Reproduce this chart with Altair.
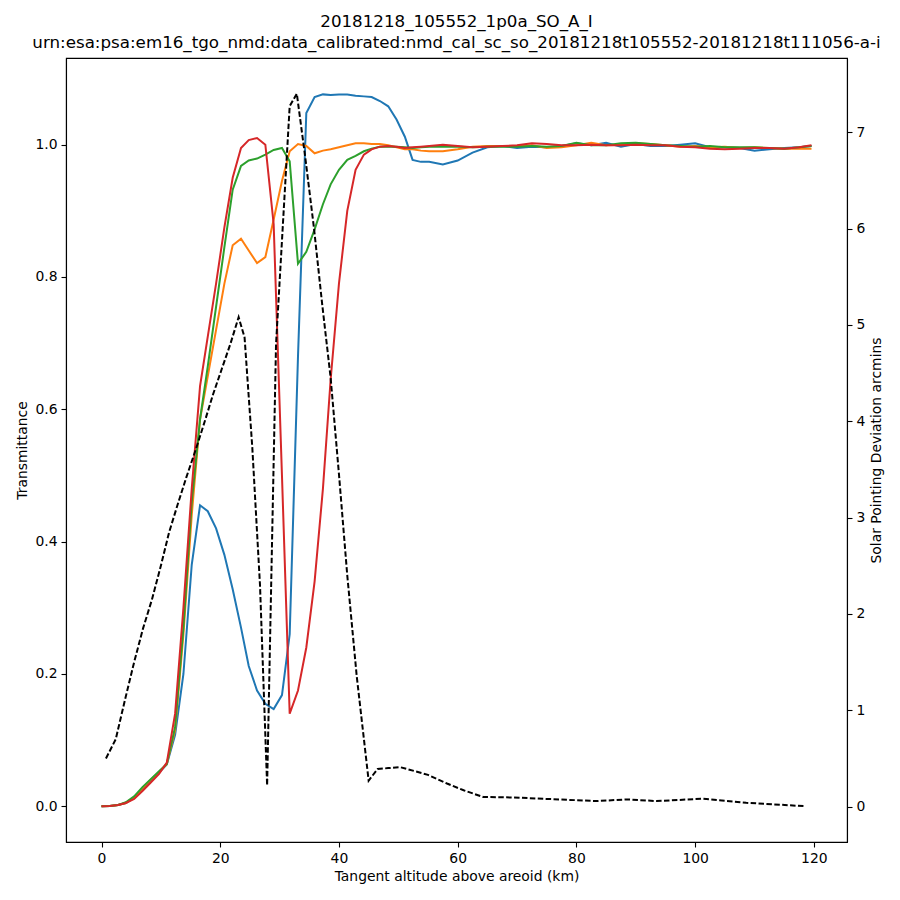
import altair as alt
import pandas as pd

TITLE_1 = "20181218_105552_1p0a_SO_A_I"
TITLE_2 = "urn:esa:psa:em16_tgo_nmd:data_calibrated:nmd_cal_sc_so_20181218t105552-20181218t111056-a-i"
X_TITLE = "Tangent altitude above areoid (km)"
YL_TITLE = "Transmittance"
YR_TITLE = "Solar Pointing Deviation arcmins"

ALT = [0.0, 1.4, 2.8, 4.1, 5.5, 6.9, 8.3, 9.7, 11.0, 12.4, 13.8, 15.2, 16.6, 17.9, 19.3, 20.7,
       22.1, 23.5, 24.8, 26.2, 27.6, 29.0, 30.4, 31.7, 33.1, 34.5, 35.9, 37.3, 38.6, 40.0, 41.4,
       42.8, 44.2, 45.5, 46.9, 48.3, 49.7, 51.1, 52.4, 53.8, 55.2, 57.5, 60.0, 62.5, 65.0, 67.5,
       70.0, 72.5, 75.0, 77.5, 80.0, 82.5, 85.0, 87.5, 90.0, 92.5, 95.0, 97.5, 100.0, 102.5,
       105.0, 107.5, 110.0, 112.5, 115.0, 117.5, 119.6]

BLUE = [0.0, 0.0005, 0.002, 0.005, 0.013, 0.026, 0.039, 0.051, 0.063,
        0.108, 0.2, 0.365, 0.455, 0.446, 0.42, 0.38, 0.328, 0.27, 0.212, 0.175, 0.155, 0.147,
        0.168, 0.26, 0.68, 1.048, 1.072, 1.076, 1.075, 1.076, 1.076, 1.074, 1.073, 1.072, 1.066,
        1.058, 1.038, 1.012, 0.977, 0.974, 0.974, 0.970, 0.976, 0.988, 0.996, 0.998, 0.995,
        0.997, 0.996, 0.998, 1.002, 0.999, 1.003, 0.997, 1.001, 0.998, 0.998, 1.0, 1.002, 0.996,
        0.996, 0.995, 0.991, 0.993, 0.995, 0.996, 0.998]

ORANGE = [0.0, 0.0005, 0.002, 0.005, 0.013, 0.027, 0.04, 0.052, 0.064,
          0.115, 0.26, 0.44, 0.585, 0.65, 0.72, 0.79, 0.848, 0.858, 0.84, 0.821, 0.83, 0.887,
          0.945, 0.99, 1.001, 0.998, 0.987, 0.991, 0.993, 0.996, 0.999, 1.002, 1.002, 1.001,
          1.001, 0.999, 0.996, 0.993, 0.993, 0.991, 0.99, 0.99, 0.993, 0.997, 0.998, 0.998,
          0.998, 0.999, 0.995, 0.996, 0.999, 1.003, 0.999, 1.0, 1.002, 1.001, 0.999, 0.997,
          0.998, 0.996, 0.997, 0.995, 0.996, 0.995, 0.994, 0.994, 0.994]

GREEN = [0.0, 0.0005, 0.002, 0.006, 0.015, 0.029, 0.041, 0.053, 0.064,
         0.12, 0.27, 0.46, 0.585, 0.665, 0.755, 0.845, 0.932, 0.968, 0.976, 0.979, 0.985, 0.992,
         0.995, 0.975, 0.82, 0.838, 0.872, 0.91, 0.94, 0.962, 0.977, 0.983, 0.99, 0.994, 0.997,
         0.997, 0.997, 0.996, 0.995, 0.996, 0.997, 0.997, 0.997, 0.996, 0.997, 0.997, 0.997,
         0.998, 0.997, 0.998, 1.003, 0.999, 0.999, 1.002, 1.003, 1.001, 0.999, 0.998, 0.997,
         0.998, 0.996, 0.996, 0.996, 0.995, 0.994, 0.996, 0.998]

RED = [0.0, 0.0005, 0.002, 0.005, 0.011, 0.023, 0.036, 0.049, 0.066,
       0.14, 0.3, 0.48, 0.635, 0.71, 0.79, 0.875, 0.95, 0.995, 1.007, 1.01, 1.0, 0.88, 0.5,
       0.14, 0.175, 0.24, 0.34, 0.48, 0.645, 0.79, 0.9, 0.962, 0.985, 0.993, 0.997, 0.998,
       0.997, 0.995, 0.996, 0.997, 0.998, 1.0, 0.998, 0.996, 0.997, 0.998, 0.999, 1.002, 1.001,
       0.999, 0.999, 1.0, 0.999, 0.999, 1.0, 0.999, 0.999, 0.997, 0.996, 0.994, 0.993, 0.994,
       0.995, 0.995, 0.994, 0.996, 0.999]

DEV_ALT = [0.75, 2.4, 4.0, 5.5, 7.0, 8.5, 10.0, 11.4, 12.8, 14.3, 15.9, 17.4, 18.8, 20.3, 21.7,
           23.1, 24.1, 25.4, 26.7, 27.9, 29.4, 31.7, 32.9, 34.3, 35.8, 37.2, 38.6, 40.0, 41.4,
           43.0, 45.0, 46.5, 48.3, 50.3, 51.5, 55.0, 58.2, 61.0, 64.3, 69.4, 75.0, 83.4, 88.4,
           93.5, 101.3, 108.6, 118.4]
DEV = [0.5, 0.7, 1.12, 1.5, 1.85, 2.15, 2.5, 2.85, 3.13, 3.42, 3.71, 4.0, 4.28, 4.55, 4.8,
       5.08, 4.87, 3.73, 2.3, 0.22, 4.8, 7.27, 7.40, 6.75, 6.0, 5.2, 4.45, 3.45, 2.4,
       1.35, 0.27, 0.39, 0.4, 0.41, 0.39, 0.33, 0.24, 0.17, 0.1, 0.095, 0.08, 0.058, 0.075,
       0.058, 0.082, 0.04, 0.005]

SERIES = [("blue", BLUE, "#1f77b4"), ("orange", ORANGE, "#ff7f0e"),
          ("green", GREEN, "#2ca02c"), ("red", RED, "#d62728")]

X_TICKS = [0, 20, 40, 60, 80, 100, 120]
YL_TICKS = [0.0, 0.2, 0.4, 0.6, 0.8, 1.0]
YR_TICKS = [0, 1, 2, 3, 4, 5, 6, 7]

FONT = "DejaVu Sans"

x_scale = alt.Scale(domain=[-5.98, 125.58], nice=False, zero=False)
yl_scale = alt.Scale(domain=[-0.054, 1.131], nice=False, zero=False)
yr_scale = alt.Scale(domain=[-0.367, 7.77], nice=False, zero=False)

x_enc = alt.X("alt:Q", scale=x_scale,
              axis=alt.Axis(values=X_TICKS, format="d", title=X_TITLE, labelFlush=False,
                            titlePadding=5))

layers = []
for name, vals, col in SERIES:
    df = pd.DataFrame({"alt": ALT, "T": vals})
    layers.append(
        alt.Chart(df).mark_line(color=col, strokeWidth=2).encode(
            x=x_enc,
            y=alt.Y("T:Q", scale=yl_scale,
                    axis=alt.Axis(orient="left", values=YL_TICKS, format=".1f",
                                  title=YL_TITLE, titlePadding=5)),
        )
    )
left = alt.layer(*layers)

dev_df = pd.DataFrame({"alt": DEV_ALT, "D": DEV})
right = alt.Chart(dev_df).mark_line(color="black", strokeWidth=2, strokeDash=[5.5, 2.4]).encode(
    x=x_enc,
    y=alt.Y("D:Q", scale=yr_scale,
            axis=alt.Axis(orient="right", values=YR_TICKS, format="d",
                          title=YR_TITLE, titlePadding=5, titleAngle=270,
                          titleBaseline="top")),
)

chart = alt.layer(left, right).resolve_scale(y="independent").properties(
    width=781,
    height=784,
    padding={"left": 7, "top": 6, "right": 5, "bottom": 5},
    title=alt.TitleParams(text=[TITLE_1, TITLE_2], font=FONT, fontSize=16.7,
                          fontWeight="normal", color="black", lineHeight=21, offset=6,
                          frame="group", anchor="middle"),
).configure_view(stroke="black", strokeWidth=1.1).configure_axis(
    labelFont=FONT, titleFont=FONT, labelFontSize=13.9, titleFontSize=13.9,
    titleFontWeight="normal", labelColor="black", titleColor="black",
    domainColor="black", tickColor="black", tickSize=5, tickWidth=1.1, domainWidth=1.1,
    labelPadding=4, grid=False,
)

chart.save("out.html", embed_options={"renderer": "svg", "actions": False})
